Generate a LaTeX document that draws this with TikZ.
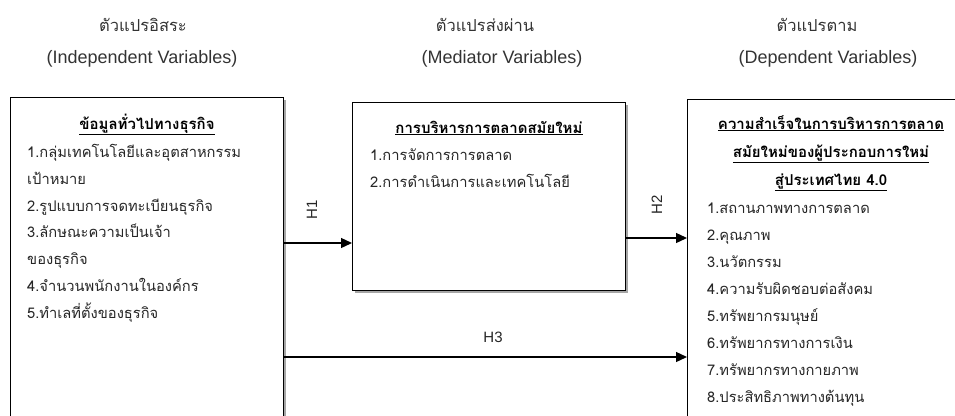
\documentclass[tikz,border=0pt]{standalone}
\usepackage{fontspec}
\setmainfont[Script=Thai]{Loma}
\newfontfamily\latinf{Liberation Sans}
\usetikzlibrary{arrows.meta,shadows}
\tikzset{
  box/.style={draw=black, line width=1.4pt, fill=white, anchor=north west,
    drop shadow={shadow xshift=2.5pt, shadow yshift=-2.5pt, fill=black!35, opacity=1}},
  arr/.style={line width=1.3pt, -{Triangle[length=11pt,width=10pt]}},
  item/.style={anchor=base west, inner sep=0pt, text=black!85, font=\fontsize{14.7}{17}\selectfont},
  ttl/.style={anchor=base, inner sep=0pt, text=black, font=\fontsize{15}{18}\selectfont\bfseries},
  hdth/.style={anchor=base, inner sep=0pt, text=black!80, font=\fontsize{16.5}{19}\selectfont},
  hden/.style={anchor=base, inner sep=0pt, text=black!80, font=\latinf\fontsize{18}{21}\selectfont},
  hlab/.style={inner sep=0pt, text=black!85, font=\latinf\fontsize{15}{18}\selectfont}
}
\begin{document}
\begin{tikzpicture}[x=1pt,y=-1pt]
\useasboundingbox (0,0) rectangle (955,415);
\clip (0,0) rectangle (955,415);
% headers
\node[hdth] (h1th) at (143,31) {ตัวแปรอิสระ};
\node[hden] (h1en) at (142,63) {(Independent Variables)};
\node[hdth] (h2th) at (485,31) {ตัวแปรส่งผ่าน};
\node[hden] (h2en) at (502,63) {(Mediator Variables)};
\node[hdth] (h3th) at (817,31) {ตัวแปรตาม};
\node[hden] (h3en) at (828,63) {(Dependent Variables)};
% boxes
\node[box, minimum width=273pt, minimum height=340pt] (left) at (10,97) {};
\node[box, minimum width=273pt, minimum height=188pt] (mid) at (352,102) {};
\node[box, minimum width=290pt, minimum height=340pt] (right) at (687,99) {};
% left box text
\node[ttl] (lt) at (147,129) {\underline{ข้อมูลทั่วไปทางธุรกิจ}};
\node[item] (l1) at (27,157) {1.กลุ่มเทคโนโลยีและอุตสาหกรรม};
\node[item] (l2) at (27,184) {เป้าหมาย};
\node[item] (l3) at (27,211) {2.รูปแบบการจดทะเบียนธุรกิจ};
\node[item] (l4) at (27,237) {3.ลักษณะความเป็นเจ้า};
\node[item] (l5) at (27,264) {ของธุรกิจ};
\node[item] (l6) at (27,291) {4.จำนวนพนักงานในองค์กร};
\node[item] (l7) at (27,318) {5.ทำเลที่ตั้งของธุรกิจ};
% middle box text
\node[ttl] (mt) at (489,133) {\underline{การบริหารการตลาดสมัยใหม่}};
\node[item] (m1) at (370,160) {1.การจัดการการตลาด};
\node[item] (m2) at (370,187) {2.การดำเนินการและเทคโนโลยี};
% right box text
\node[ttl] (rt1) at (831,129) {\underline{ความสำเร็จในการบริหารการตลาด}};
\node[ttl] (rt2) at (831,157) {\underline{สมัยใหม่ของผู้ประกอบการใหม่}};
\node[ttl] (rt3) at (831,185) {\underline{สู่ประเทศไทย 4.0}};
\node[item] (r1) at (707,213) {1.สถานภาพทางการตลาด};
\node[item] (r2) at (707,240) {2.คุณภาพ};
\node[item] (r3) at (707,267) {3.นวัตกรรม};
\node[item] (r4) at (707,294) {4.ความรับผิดชอบต่อสังคม};
\node[item] (r5) at (707,321) {5.ทรัพยากรมนุษย์};
\node[item] (r6) at (707,348) {6.ทรัพยากรทางการเงิน};
\node[item] (r7) at (707,375) {7.ทรัพยากรทางกายภาพ};
\node[item] (r8) at (707,402) {8.ประสิทธิภาพทางต้นทุน};
% arrows
\coordinate (y1) at (0,243);
\coordinate (y2) at (0,238);
\coordinate (y3) at (0,357);
\draw[arr] (left.east |- y1) -- (mid.west |- y1);
\draw[arr] (mid.east |- y2) -- (right.west |- y2);
\draw[arr] (left.east |- y3) -- (right.west |- y3);
\node[hlab, rotate=90] (lab1) at (312,210) {H1};
\node[hlab, rotate=90] (lab2) at (657,205) {H2};
\node[hlab] (lab3) at (493,337) {H3};
\end{tikzpicture}
\end{document}
